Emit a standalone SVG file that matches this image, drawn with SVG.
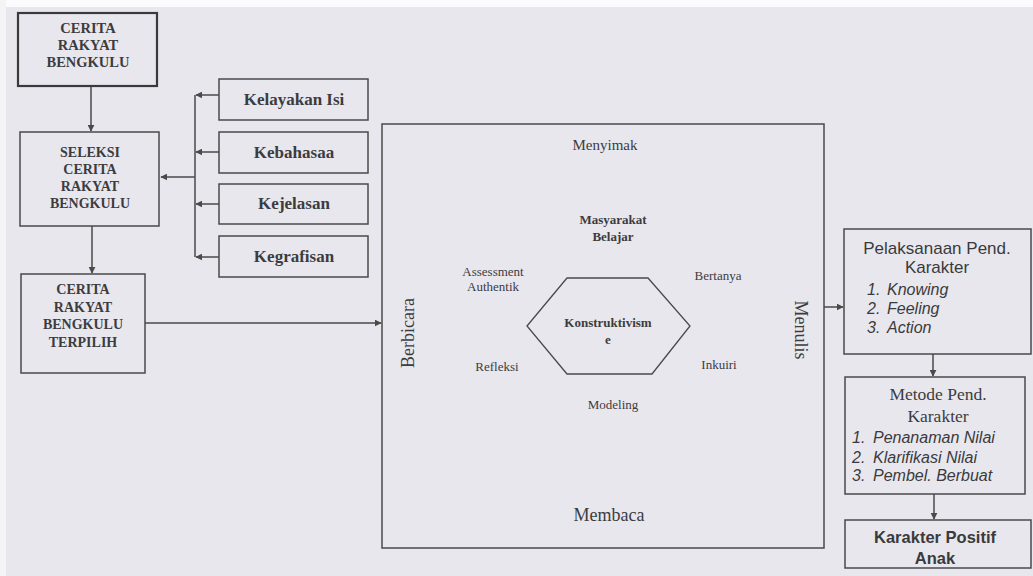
<svg xmlns="http://www.w3.org/2000/svg" width="1033" height="576" viewBox="0 0 1033 576">
<defs>
<style>
.bg{fill:#e8e7ee}
.box{fill:none;stroke:#4a4a4a;stroke-width:1.5}
.ln{fill:none;stroke:#4a4a4a;stroke-width:1.5}
.sb{font-family:"Liberation Serif","Times New Roman",serif;font-weight:bold;fill:#3c3c3e;text-anchor:middle}
.sr{font-family:"Liberation Serif","Times New Roman",serif;fill:#3c3c3e;text-anchor:middle}
.ss{font-family:"Liberation Sans",Arial,sans-serif;fill:#3a3a3c}
</style>
<marker id="ah" viewBox="0 0 10 10" refX="9" refY="5" markerWidth="7" markerHeight="7" markerUnits="userSpaceOnUse" orient="auto">
<path d="M0,0 L10,5 L0,10 z" fill="#4a4a4a"/>
</marker>
</defs>
<rect class="bg" x="0" y="0" width="1033" height="576"/>
<rect x="0" y="0" width="1033" height="7" fill="#fbfbfd"/>
<rect x="0" y="0" width="6" height="576" fill="#f4f4f7"/>

<g id="connectors">
<line class="ln" x1="91" y1="87" x2="91" y2="131" marker-end="url(#ah)"/>
<line class="ln" x1="92" y1="226" x2="92" y2="273" marker-end="url(#ah)"/>
<line class="ln" x1="145" y1="323" x2="381" y2="323" marker-end="url(#ah)"/>
<line class="ln" x1="195" y1="95" x2="195" y2="257"/>
<line class="ln" x1="219" y1="95" x2="196" y2="95" marker-end="url(#ah)"/>
<line class="ln" x1="219" y1="152" x2="196" y2="152" marker-end="url(#ah)"/>
<line class="ln" x1="219" y1="204" x2="196" y2="204" marker-end="url(#ah)"/>
<line class="ln" x1="219" y1="257" x2="196" y2="257" marker-end="url(#ah)"/>
<line class="ln" x1="195" y1="177" x2="161" y2="177" marker-end="url(#ah)"/>
<line class="ln" x1="824" y1="307" x2="843" y2="307" marker-end="url(#ah)"/>
<line class="ln" x1="933" y1="354" x2="933" y2="376" marker-end="url(#ah)"/>
<line class="ln" x1="934" y1="494" x2="934" y2="519" marker-end="url(#ah)"/>
</g>

<g id="cerita-rakyat">
<rect x="18" y="13" width="139" height="73" fill="none" stroke="#3a3a3a" stroke-width="2.2"/>
<text class="sb" x="88" y="33" font-size="14.5">CERITA</text>
<text class="sb" x="88" y="50" font-size="14.5">RAKYAT</text>
<text class="sb" x="88" y="67" font-size="14.5">BENGKULU</text>
</g>

<g id="seleksi">
<rect class="box" x="20" y="132" width="139" height="94"/>
<text class="sb" x="90" y="157" font-size="14">SELEKSI</text>
<text class="sb" x="90" y="174" font-size="14">CERITA</text>
<text class="sb" x="90" y="191" font-size="14">RAKYAT</text>
<text class="sb" x="90" y="208" font-size="14">BENGKULU</text>
</g>

<g id="terpilih">
<rect class="box" x="21" y="274" width="124" height="99"/>
<text class="sb" x="83" y="294" font-size="14">CERITA</text>
<text class="sb" x="83" y="312" font-size="14">RAKYAT</text>
<text class="sb" x="83" y="329" font-size="14">BENGKULU</text>
<text class="sb" x="83" y="347" font-size="14">TERPILIH</text>
</g>

<g id="kelayakan">
<rect class="box" x="219" y="79" width="149" height="41"/>
<text class="sb" x="294" y="105" font-size="17">Kelayakan Isi</text>
</g>
<g id="kebahasaa">
<rect class="box" x="219" y="132" width="149" height="41"/>
<text class="sb" x="294" y="158" font-size="17">Kebahasaa</text>
</g>
<g id="kejelasan">
<rect class="box" x="219" y="184" width="149" height="40"/>
<text class="sb" x="294" y="209" font-size="17">Kejelasan</text>
</g>
<g id="kegrafisan">
<rect class="box" x="219" y="236" width="149" height="41"/>
<text class="sb" x="294" y="262" font-size="17">Kegrafisan</text>
</g>

<g id="pembelajaran">
<rect class="box" x="382" y="124" width="442" height="424"/>
<text class="sr" x="605" y="150" font-size="15">Menyimak</text>
<text class="sb" x="613" y="224" font-size="13">Masyarakat</text>
<text class="sb" x="613" y="241" font-size="13">Belajar</text>
<text class="sr" x="493" y="276" font-size="13">Assessment</text>
<text class="sr" x="493" y="291" font-size="13">Authentik</text>
<text class="sr" x="718" y="280" font-size="13">Bertanya</text>
<text class="sr" x="497" y="371" font-size="13">Refleksi</text>
<text class="sr" x="719" y="369" font-size="13">Inkuiri</text>
<text class="sr" x="613" y="409" font-size="13">Modeling</text>
<text class="sr" x="609" y="521" font-size="18">Membaca</text>
<text class="sr" font-size="18" transform="translate(414 333) rotate(-90)">Berbicara</text>
<text class="sr" font-size="18" transform="translate(795 330) rotate(90)">Menulis</text>
</g>

<g id="konstruktivisme">
<polygon points="527,326 567,278 648,278 690,326 652,374 567,374" fill="none" stroke="#4a4a4a" stroke-width="1.3"/>
<text class="sb" x="608" y="327" font-size="13">Konstruktivism</text>
<text class="sb" x="608" y="344" font-size="13">e</text>
</g>

<g id="pelaksanaan">
<rect class="box" x="844" y="229" width="187" height="125"/>
<text class="ss" x="937" y="254" font-size="17" text-anchor="middle">Pelaksanaan Pend.</text>
<text class="ss" x="937" y="273" font-size="17" text-anchor="middle">Karakter</text>
<text class="ss" x="867" y="295" font-size="16" font-style="italic">1.</text>
<text class="ss" x="887" y="295" font-size="16" font-style="italic">Knowing</text>
<text class="ss" x="867" y="314" font-size="16" font-style="italic">2.</text>
<text class="ss" x="887" y="314" font-size="16" font-style="italic">Feeling</text>
<text class="ss" x="867" y="333" font-size="16" font-style="italic">3.</text>
<text class="ss" x="887" y="333" font-size="16" font-style="italic">Action</text>
</g>

<g id="metode">
<rect class="box" x="845" y="377" width="180" height="117"/>
<text class="sr" x="938" y="400" font-size="17.5">Metode Pend.</text>
<text class="sr" x="938" y="422" font-size="17.5">Karakter</text>
<text class="ss" x="852" y="443" font-size="16" font-style="italic">1.</text>
<text class="ss" x="873" y="443" font-size="16" font-style="italic">Penanaman Nilai</text>
<text class="ss" x="852" y="463" font-size="16" font-style="italic">2.</text>
<text class="ss" x="873" y="463" font-size="16" font-style="italic">Klarifikasi Nilai</text>
<text class="ss" x="852" y="481" font-size="16" font-style="italic">3.</text>
<text class="ss" x="873" y="481" font-size="16" font-style="italic">Pembel. Berbuat</text>
</g>

<g id="karakter-positif">
<rect class="box" x="845" y="520" width="186" height="48"/>
<text class="ss" x="935" y="543" font-size="16.5" font-weight="bold" text-anchor="middle">Karakter Positif</text>
<text class="ss" x="935" y="564" font-size="16.5" font-weight="bold" text-anchor="middle">Anak</text>
</g>
</svg>
